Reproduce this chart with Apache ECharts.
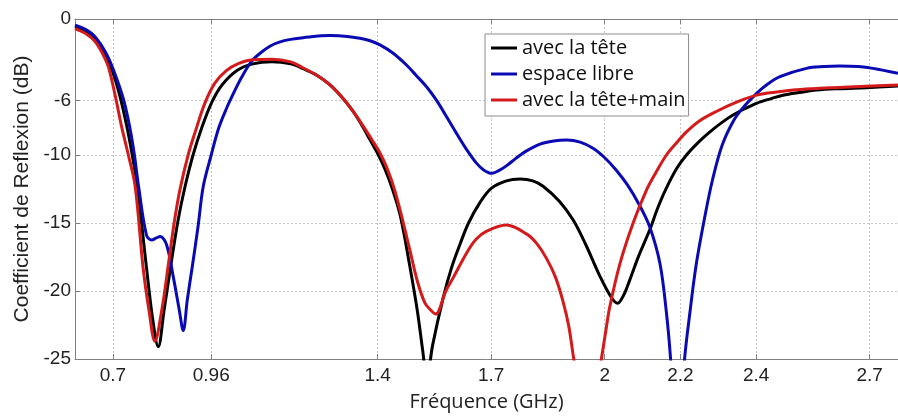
<!DOCTYPE html>
<html>
<head>
<meta charset="utf-8">
<script src="https://cdn.jsdelivr.net/npm/echarts@6/dist/echarts.min.js"></script>
<style>
html,body{margin:0;padding:0;background:#fff;}
#chart{width:898px;height:419px;}
</style>
</head>
<body>
<div id="chart"></div>
<script>
const xTicks = [0.7, 0.96, 1.4, 1.7, 2, 2.2, 2.4, 2.7];
const yTicks = [0, -6, -10, -15, -20, -25];
const seriesNames = ['avec la tête', 'espace libre', 'avec la tête+main'];

const freqTete = [0.60,0.63,0.653,0.675,0.697,0.719,0.737,0.750,0.765,0.789,0.805,0.820,0.835,0.855,0.873,0.891,0.912,0.935,0.962,0.99,1.03,1.07,1.12,1.17,1.203,1.24,1.274,1.31,1.335,1.36,1.379,1.40,1.42,1.44,1.46,1.485,1.505,1.519,1.530,1.545,1.573,1.595,1.617,1.64,1.67,1.70,1.74,1.776,1.81,1.837,1.88,1.917,1.95,1.987,2.018,2.034,2.05,2.066,2.09,2.119,2.14,2.16,2.19,2.216,2.25,2.278,2.31,2.339,2.37,2.401,2.44,2.471,2.52,2.559,2.62,2.692,2.775];
const dbTete = [-0.55,-0.9,-1.4,-2.3,-3.7,-5.7,-7.9,-9.8,-12.4,-18.3,-22,-24.1,-21.5,-17.8,-14.7,-12.3,-10,-8.0,-6.1,-4.8,-3.75,-3.3,-3.15,-3.3,-3.65,-4.15,-4.85,-5.9,-6.8,-7.9,-8.85,-9.9,-11.1,-12.6,-14.5,-18.2,-21.5,-24.4,-26.5,-24,-20.5,-18.3,-16.6,-15.0,-13.5,-12.45,-11.9,-11.76,-11.9,-12.3,-13.4,-14.8,-16.6,-18.9,-20.5,-20.9,-20.3,-19.2,-17.4,-15.5,-13.9,-12.6,-11.0,-10.0,-9.0,-8.3,-7.6,-7.06,-6.6,-6.2,-5.85,-5.6,-5.38,-5.22,-5.12,-5.05,-4.93];

const freqLibre = [0.60,0.63,0.653,0.68,0.701,0.728,0.745,0.757,0.768,0.789,0.803,0.815,0.825,0.842,0.86,0.875,0.886,0.897,0.91,0.925,0.939,0.96,0.98,1.0,1.02,1.04,1.067,1.09,1.115,1.14,1.17,1.203,1.274,1.32,1.353,1.38,1.406,1.44,1.476,1.50,1.529,1.556,1.58,1.608,1.635,1.661,1.68,1.701,1.72,1.74,1.765,1.79,1.829,1.865,1.899,1.935,1.969,2.0,2.03,2.06,2.09,2.119,2.146,2.163,2.174,2.185,2.195,2.205,2.211,2.225,2.242,2.264,2.285,2.31,2.34,2.366,2.40,2.43,2.463,2.533,2.58,2.621,2.67,2.709,2.775];
const dbLibre = [-0.45,-0.8,-1.3,-2.4,-3.7,-5.9,-8.0,-10,-12.3,-15.9,-16.25,-16.1,-16.0,-16.6,-19.0,-21.3,-22.9,-20.6,-18.2,-15.3,-12.3,-10,-8.0,-6.6,-5.4,-4.3,-3.1,-2.5,-2.0,-1.7,-1.5,-1.37,-1.22,-1.28,-1.42,-1.6,-1.9,-2.5,-3.38,-4.1,-4.98,-6.0,-7.1,-8.4,-9.6,-10.6,-11.1,-11.35,-11.15,-10.8,-10.25,-9.75,-9.2,-8.97,-8.9,-9.05,-9.5,-10.2,-11.1,-12.2,-13.6,-15.3,-18.0,-21.6,-25,-30,-32,-28,-25,-21.6,-18,-14.6,-11.8,-9.3,-7.5,-6.5,-5.5,-4.8,-4.24,-3.63,-3.5,-3.46,-3.5,-3.63,-4.0];

const freqMain = [0.60,0.63,0.653,0.672,0.688,0.706,0.723,0.741,0.759,0.780,0.796,0.811,0.83,0.847,0.862,0.877,0.899,0.92,0.943,0.97,1.0,1.03,1.07,1.12,1.17,1.203,1.24,1.274,1.31,1.335,1.36,1.385,1.405,1.425,1.445,1.465,1.485,1.505,1.525,1.54,1.553,1.58,1.60,1.635,1.66,1.688,1.74,1.793,1.82,1.846,1.87,1.89,1.905,1.917,1.93,1.955,1.975,1.991,2.003,2.013,2.04,2.075,2.11,2.135,2.163,2.19,2.216,2.25,2.295,2.35,2.401,2.45,2.498,2.55,2.603,2.69,2.775];
const dbMain = [-0.7,-1.1,-1.65,-2.5,-3.5,-5.6,-7.9,-10,-12.3,-18.3,-21.5,-23.7,-21.3,-18.0,-15.0,-12.6,-10,-8.1,-6.2,-4.7,-3.8,-3.3,-3.0,-2.96,-3.15,-3.6,-4.15,-4.85,-5.9,-6.8,-7.8,-8.9,-9.8,-11.0,-12.6,-14.7,-17.0,-19.3,-20.9,-21.4,-21.7,-20.0,-19.0,-17.2,-16.2,-15.6,-15.15,-15.8,-16.5,-17.6,-19.0,-20.8,-22.6,-24.8,-27,-29,-27.5,-25,-22.9,-21.2,-18,-15,-12.6,-11.3,-10,-9.1,-8.3,-7.5,-6.8,-6.1,-5.6,-5.38,-5.22,-5.12,-5.05,-4.95,-4.85];

const colors = ['#000000', '#0a0ab4', '#d41a1a'];
const pairs = (xs, ys) => xs.map((x, i) => [x, ys[i]]);

const chart = echarts.init(document.getElementById('chart'), null, {renderer: 'canvas'});
const mkSeries = (name, data, color) => ({
  name, type: 'line', data, smooth: 0.35,
  showSymbol: false, symbol: 'none', clip: true,
  lineStyle: {color, width: 3}, itemStyle: {color}, z: 3
});
chart.setOption({
  animation: false,
  backgroundColor: '#ffffff',
  grid: {left: 75, right: 0, top: 19, bottom: 60, containLabel: false},
  legend: {
    orient: 'vertical', left: 485, top: 34,
    padding: [4, 3, 6, 6], itemGap: 6,
    itemWidth: 26, itemHeight: 3,
    backgroundColor: '#ffffff', borderColor: '#8c8c8c', borderWidth: 1,
    textStyle: {fontFamily: 'Open Sans', fontSize: 20, color: '#111'},
    data: seriesNames.map(n => ({name: n, icon: 'rect'}))
  },
  xAxis: [{
    type: 'value', min: 0.6, max: 2.775, position: 'bottom',
    name: 'Fréquence (GHz)', nameLocation: 'middle', nameGap: 33,
    nameTextStyle: {fontFamily: 'Open Sans', fontSize: 20, color: '#222'},
    axisLine: {show: true, onZero: false, lineStyle: {color: '#808080', width: 1}},
    axisTick: {show: true, inside: true, length: 5, customValues: xTicks, lineStyle: {color: '#808080'}},
    axisLabel: {customValues: xTicks, fontFamily: 'Liberation Sans', fontSize: 19, color: '#222', margin: 7,
      formatter: v => String(v)},
    splitLine: {show: true, lineStyle: {color: '#c4c4c4', type: [2, 2], width: 1}}
  }, {
    type: 'value', min: 0.6, max: 2.775, position: 'top',
    axisLine: {show: true, onZero: false, lineStyle: {color: '#808080', width: 1}},
    axisTick: {show: true, inside: true, length: 5, customValues: xTicks, lineStyle: {color: '#808080'}},
    axisLabel: {show: false}, splitLine: {show: false}
  }],
  yAxis: [{
    type: 'value', min: -25, max: 0,
    name: 'Coefficient de Reflexion (dB)', nameLocation: 'middle', nameGap: 36, nameRotate: 90,
    nameTextStyle: {fontFamily: 'Liberation Sans', fontSize: 21, color: '#222'},
    axisLine: {show: true, onZero: false, lineStyle: {color: '#808080', width: 1}},
    axisTick: {show: true, inside: true, length: 5, customValues: yTicks, lineStyle: {color: '#808080'}},
    axisLabel: {customValues: yTicks, fontFamily: 'Liberation Sans', fontSize: 19, color: '#222', margin: 4},
    splitLine: {show: true, lineStyle: {color: '#c4c4c4', type: [2, 2], width: 1}}
  }],
  series: [
    mkSeries(seriesNames[0], pairs(freqTete, dbTete), colors[0]),
    mkSeries(seriesNames[1], pairs(freqLibre, dbLibre), colors[1]),
    mkSeries(seriesNames[2], pairs(freqMain, dbMain), colors[2])
  ]
});
</script>
</body>
</html>
